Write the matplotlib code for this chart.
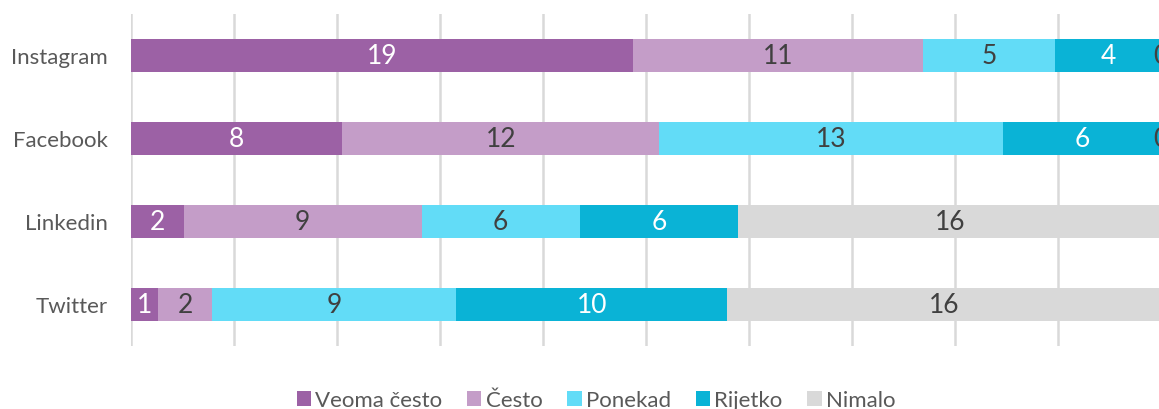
import matplotlib.pyplot as plt
import numpy as np

plt.rcParams['font.family'] = ['Lato', 'DejaVu Sans']

# ==== data ====
categories = ["Instagram", "Facebook", "Linkedin", "Twitter"]
series_names = ["Veoma često", "Često", "Ponekad", "Rijetko", "Nimalo"]
veoma_cesto = [19, 8, 2, 1]
cesto = [11, 12, 9, 2]
ponekad = [5, 13, 6, 9]
rijetko = [4, 6, 6, 10]
nimalo = [0, 0, 16, 16]

colors = ["#9C61A5", "#C49DC8", "#62DCF7", "#0AB3D6", "#D9D9D9"]
text_colors = ["white", "#404040", "#404040", "white", "#404040"]

values = np.array([veoma_cesto, cesto, ponekad, rijetko, nimalo], dtype=float)
totals = values.sum(axis=0)
shares = values / totals  # 100% stacked

# ==== figure ====
W, H = 1159, 410
fig = plt.figure(figsize=(W / 100, H / 100), dpi=100)
left, right, top, bottom = 131, 1161, 15, 347
ax = fig.add_axes([left / W, 1 - bottom / H, (right - left) / W, (bottom - top) / H])

y = np.arange(len(categories))
start = np.zeros(len(categories))
for i, name in enumerate(series_names):
    ax.barh(y, shares[i], left=start, height=0.4, color=colors[i],
            label=name, zorder=2)
    for j in range(len(categories)):
        cx = start[j] + shares[i][j] / 2
        ax.text(cx, y[j], f"{int(values[i][j])}", ha="center", va="center",
                fontsize=19, color=text_colors[i], zorder=3)
    start += shares[i]

ax.set_xlim(0, 1)
ax.set_ylim(len(categories) - 0.5, -0.5)
ax.set_xticks(np.linspace(0, 1, 11))
ax.tick_params(axis="x", length=0, labelbottom=False)
ax.grid(axis="x", color="#D9D9D9", linewidth=1.8, zorder=0)
ax.set_axisbelow(True)
for s in ax.spines.values():
    s.set_visible(False)

ax.set_yticks(y)
ax.set_yticklabels(categories, fontsize=16, color="#595959")
ax.tick_params(axis="y", length=0, pad=17)

fig.legend(loc="center", bbox_to_anchor=(596 / W, 1 - 401 / H), ncol=5,
           frameon=False, fontsize=16, labelcolor="#595959",
           handlelength=0.65, handleheight=0.65, handletextpad=0.2,
           columnspacing=1.1)

fig.savefig("out.png", dpi=100)
